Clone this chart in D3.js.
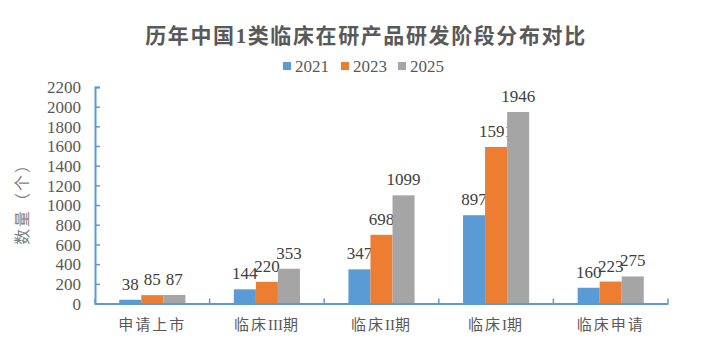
<!DOCTYPE html>
<html><head><meta charset="utf-8">
<script src="https://cdn.jsdelivr.net/npm/d3@7"></script>
<style>body{margin:0;background:#fff;} svg{display:block;}</style>
</head><body>
<script>
const categories = ["申请上市", "临床III期", "临床II期", "临床I期", "临床申请"];
const seriesNames = ["2021", "2023", "2025"];
const values2021 = [38, 144, 347, 897, 160];
const values2023 = [85, 220, 698, 1591, 223];
const values2025 = [87, 353, 1099, 1946, 275];
const yTicks = [0, 200, 400, 600, 800, 1000, 1200, 1400, 1600, 1800, 2000, 2200];
const colors = ["#5B9BD5", "#ED7D31", "#A5A5A5"];
const seriesValues = [values2021, values2023, values2025];

const W = 709, H = 356;
const svg = d3.select("body").append("svg").attr("width", W).attr("height", H);
const m = {left: 95, right: 41, top: 87, bottom: 52.5};
const x0 = d3.scaleBand().domain(categories).range([m.left, W - m.right]).padding(0);
const x1 = d3.scaleBand().domain(seriesNames).range([0, x0.bandwidth()]).paddingInner(0).paddingOuter(1.1);
const y = d3.scaleLinear().domain([0, 2200]).range([H - m.bottom, m.top]);
const serif = "'Liberation Serif', 'Times New Roman', 'Noto Sans CJK SC', serif";

// title
svg.append("text").attr("x", 366).attr("y", 43).attr("text-anchor", "middle")
  .attr("font-family", "'Liberation Serif', 'Noto Sans CJK SC', serif").attr("font-weight", "bold")
  .attr("font-size", 21).attr("letter-spacing", 1.6).attr("fill", "#595959")
  .text("历年中国1类临床在研产品研发阶段分布对比");

// legend
const legX = [283, 341, 398];
seriesNames.forEach((s, i) => {
  svg.append("rect").attr("x", legX[i]).attr("y", 62).attr("width", 8).attr("height", 8).attr("fill", colors[i]);
  svg.append("text").attr("x", legX[i] + 12).attr("y", 72).attr("font-family", serif)
    .attr("font-size", 17).attr("fill", "#595959").text(s);
});

// bars
const g = svg.append("g");
categories.forEach((c, ci) => {
  seriesNames.forEach((s, si) => {
    const v = seriesValues[si][ci];
    g.append("rect").attr("x", x0(c) + x1(s)).attr("y", y(v))
      .attr("width", x1.bandwidth()).attr("height", y(0) - y(v)).attr("fill", colors[si]);
    g.append("text").attr("x", x0(c) + x1(s) + x1.bandwidth() / 2).attr("y", y(v) - 10)
      .attr("text-anchor", "middle").attr("font-family", serif).attr("font-size", 17)
      .attr("fill", "#404040").text(v);
  });
});

// y axis
const yAxis = svg.append("g").attr("transform", `translate(${m.left},0)`)
  .call(d3.axisLeft(y).tickValues(yTicks).tickSize(-5).tickPadding(14).tickFormat(d3.format("d")));
yAxis.select(".domain").attr("stroke", "#5B9BD5").attr("stroke-width", 2);
yAxis.selectAll(".tick line").attr("stroke", "#5B9BD5").attr("stroke-width", 1.5);
yAxis.selectAll(".tick text").attr("font-family", serif).attr("font-size", 17).attr("fill", "#595959").attr("dy", "0.34em");

// x axis
const xAxis = svg.append("g").attr("transform", `translate(0,${y(0)})`)
  .call(d3.axisBottom(x0).tickSize(0).tickPadding(16));
xAxis.select(".domain").attr("stroke", "#5B9BD5").attr("stroke-width", 2);
xAxis.selectAll(".tick text").each(function(d) {
  const t = d3.select(this).text("");
  t.attr("font-family", serif).attr("font-size", 15).attr("fill", "#595959");
  const parts = d.match(/[A-Za-z]+|[^A-Za-z]+/g);
  parts.forEach(p => {
    t.append("tspan").attr("letter-spacing", /[A-Za-z]/.test(p) ? 0 : 2).text(p);
  });
});
const bounds = categories.map(c => x0(c)).concat([x0.range()[1]]);
svg.append("g").selectAll("line").data(bounds).join("line")
  .attr("x1", d => d).attr("x2", d => d).attr("y1", y(0)).attr("y2", y(0) - 5)
  .attr("stroke", "#5B9BD5").attr("stroke-width", 1.5);

// y label
svg.append("text").attr("transform", "translate(28,200) rotate(-90)").attr("text-anchor", "middle")
  .attr("font-family", "'Noto Sans CJK SC', sans-serif").attr("font-size", 16)
  .attr("letter-spacing", 2).attr("fill", "#7f7f7f").text("数量（个）");
</script>
</body></html>
